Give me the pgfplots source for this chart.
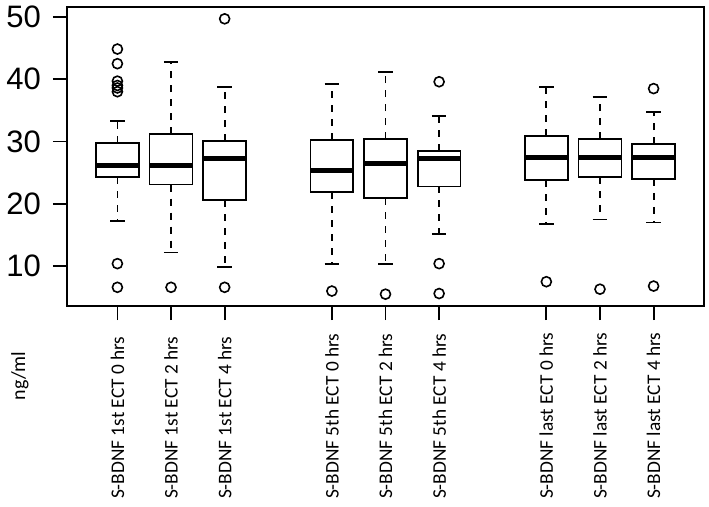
\documentclass[border=0pt]{standalone}
\usepackage{fontspec}
\setmainfont{Carlito}
\newfontfamily\arialfont{Liberation Sans}
\usepackage{pgfplots}
\usepgfplotslibrary{statistics}
\pgfplotsset{compat=1.18}
\pgfplotsset{
  bx/.style={black, solid, line width=1.8bp, mark=o, mark size=5bp,
    mark options={line width=1.6bp, solid, fill=none}},
}
\begin{document}
\begin{tikzpicture}
\path[use as bounding box] (0,0) rectangle (709bp,507bp);
\begin{axis}[
  at={(67bp,201bp)}, anchor=south west,
  scale only axis, width=637bp, height=299bp,
  xmin=0.06, xmax=11.94, ymin=3.6, ymax=51.6,
  axis line style={line width=1.8bp, black},
  xtick={1,2,3,5,6,7,9,10,11},
  xticklabels={S-BDNF 1st ECT 0 hrs, S-BDNF 1st ECT 2 hrs, S-BDNF 1st ECT 4 hrs,
    S-BDNF 5th ECT 0 hrs, S-BDNF 5th ECT 2 hrs, S-BDNF 5th ECT 4 hrs,
    S-BDNF last ECT 0 hrs, S-BDNF last ECT 2 hrs, S-BDNF last ECT 4 hrs},
  ytick={10,20,30,40,50},
  xtick pos=bottom, ytick pos=left,
  tick align=outside, major tick length=14bp,
  tick style={line width=1.8bp, black},
  /pgf/number format/assume math mode=true,
  yticklabel style={font=\arialfont\fontsize{31bp}{31bp}\selectfont, inner sep=0pt, xshift=-12bp},
  xticklabel style={font=\fontsize{19.3bp}{20bp}\selectfont, rotate=90, anchor=west, inner sep=0pt, xshift=-179bp},
  ylabel={ng/ml},
  every axis y label/.style={at={(rel axis cs:-0.0738,-0.234)}, rotate=90, anchor=center,
    font=\fontsize{20bp}{21bp}\selectfont},
  boxplot/draw direction=y,
  boxplot/box extend=0.8,
  boxplot/whisker extend=0.27,
  boxplot/every median/.style={line width=5bp},
  boxplot/draw/lower whisker/.code={%
    \draw[/pgfplots/boxplot/every whisker/.try, dash pattern=on 7bp off 7bp]
      (boxplot cs:\pgfplotsboxplotvalue{lower quartile}) -- (boxplot cs:\pgfplotsboxplotvalue{lower whisker});
    \draw[/pgfplots/boxplot/every whisker/.try]
      (boxplot whisker cs:\pgfplotsboxplotvalue{lower whisker},0) -- (boxplot whisker cs:\pgfplotsboxplotvalue{lower whisker},1);
  },
  boxplot/draw/upper whisker/.code={%
    \draw[/pgfplots/boxplot/every whisker/.try, dash pattern=on 7bp off 7bp]
      (boxplot cs:\pgfplotsboxplotvalue{upper quartile}) -- (boxplot cs:\pgfplotsboxplotvalue{upper whisker});
    \draw[/pgfplots/boxplot/every whisker/.try]
      (boxplot whisker cs:\pgfplotsboxplotvalue{upper whisker},0) -- (boxplot whisker cs:\pgfplotsboxplotvalue{upper whisker},1);
  },
]
% 1st ECT
\addplot[bx, boxplot prepared={draw position=1, median=26.2, upper quartile=29.8, lower quartile=24.3, upper whisker=33.3, lower whisker=17.3}]
  coordinates {(0,44.85) (0,42.5) (0,39.7) (0,39.0) (0,38.6) (0,38.0) (0,10.4) (0,6.6)};
\addplot[bx, boxplot prepared={draw position=2, median=26.2, upper quartile=31.2, lower quartile=23.1, upper whisker=42.8, lower whisker=12.2}]
  coordinates {(0,6.6)};
\addplot[bx, boxplot prepared={draw position=3, median=27.2, upper quartile=30.05, lower quartile=20.6, upper whisker=38.7, lower whisker=9.9}]
  coordinates {(0,49.7) (0,6.6)};
% 5th ECT
\addplot[bx, boxplot prepared={draw position=5, median=25.4, upper quartile=30.3, lower quartile=21.9, upper whisker=39.3, lower whisker=10.4}]
  coordinates {(0,6.0)};
\addplot[bx, boxplot prepared={draw position=6, median=26.5, upper quartile=30.4, lower quartile=20.9, upper whisker=41.2, lower whisker=10.4}]
  coordinates {(0,5.5)};
\addplot[bx, boxplot prepared={draw position=7, median=27.3, upper quartile=28.5, lower quartile=22.8, upper whisker=34.1, lower whisker=15.1}]
  coordinates {(0,39.6) (0,10.4) (0,5.6)};
% last ECT
\addplot[bx, boxplot prepared={draw position=9, median=27.5, upper quartile=30.9, lower quartile=23.8, upper whisker=38.7, lower whisker=16.7}]
  coordinates {(0,7.5)};
\addplot[bx, boxplot prepared={draw position=10, median=27.5, upper quartile=30.4, lower quartile=24.3, upper whisker=37.2, lower whisker=17.5}]
  coordinates {(0,6.3)};
\addplot[bx, boxplot prepared={draw position=11, median=27.5, upper quartile=29.6, lower quartile=24.0, upper whisker=34.8, lower whisker=17.0}]
  coordinates {(0,38.5) (0,6.8)};
\end{axis}
\end{tikzpicture}
\end{document}
